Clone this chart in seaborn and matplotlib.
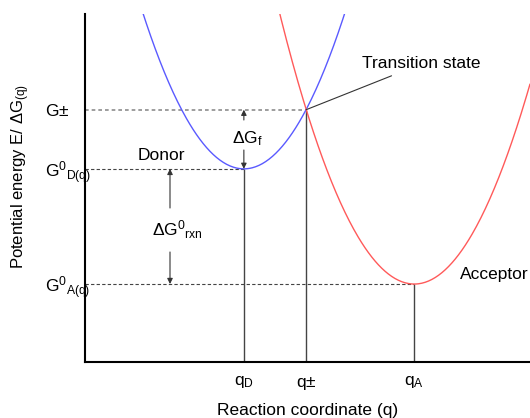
import numpy as np
import pandas as pd
import matplotlib
matplotlib.use("Agg")
import matplotlib.pyplot as plt
import seaborn as sns

# ---- data (axis units 0..10 on both axes) ----
states = ["Donor", "Acceptor"]
min_q = [3.57, 7.40]          # q_D, q_A
min_G = [5.55, 2.24]          # G0_D(q), G0_A(q)
curvature = [0.87, 0.85]
ts_q = 4.97                   # q±
ts_G = 7.25                   # G±
curve_colors = ["#5a5aff", "#ff5a5a"]

x_tick_pos = [min_q[0], ts_q, min_q[1]]
x_tick_labels = [r"q$_{\mathrm{D}}$", r"q$\pm$", r"q$_{\mathrm{A}}$"]
y_tick_pos = [ts_G, min_G[0], min_G[1]]
y_tick_labels = [r"G$\pm$", r"G$^{0}{}_{\mathrm{D(q)}}$", r"G$^{0}{}_{\mathrm{A(q)}}$"]

# ---- build parabola table ----
q = np.linspace(0, 10, 400)
frames = []
for s, q0, g0, k in zip(states, min_q, min_G, curvature):
    frames.append(pd.DataFrame({"q": q, "G": k * (q - q0) ** 2 + g0, "state": s}))
df = pd.concat(frames, ignore_index=True)

sns.set_style("white")
plt.rcParams["font.family"] = ["Liberation Sans", "DejaVu Sans"]
plt.rcParams["mathtext.fontset"] = "custom"
plt.rcParams["mathtext.rm"] = "Liberation Sans"
plt.rcParams["mathtext.it"] = "Liberation Sans"
plt.rcParams["mathtext.bf"] = "Liberation Sans:bold"
for key in ["text.color", "axes.labelcolor", "xtick.color", "ytick.color"]:
    plt.rcParams[key] = "black"

FS = 12.5
fig = plt.figure(figsize=(5.3, 4.18), dpi=100)
ax = fig.add_axes([85 / 530, 56 / 418, 445 / 530, 348 / 418])

sns.lineplot(data=df, x="q", y="G", hue="state", palette=dict(zip(states, curve_colors)),
             estimator=None, legend=False, lw=1.0, ax=ax, zorder=3)

ax.set_xlim(0, 10)
ax.set_ylim(0, 10)

# spines
for sp in ["top", "right"]:
    ax.spines[sp].set_visible(False)
for sp in ["left", "bottom"]:
    ax.spines[sp].set_color("black")
    ax.spines[sp].set_linewidth(1.5)

# guide lines
ax.hlines(ts_G, 0, ts_q, colors="#8c8c8c", lw=1.2, linestyles=(0, (2.2, 1.8)), zorder=2)
ax.hlines(min_G[0], 0, min_q[0], colors="#444444", lw=0.8, linestyles=(0, (3, 2)), zorder=2)
ax.hlines(min_G[1], 0, min_q[1], colors="#444444", lw=0.8, linestyles=(0, (3, 2)), zorder=2)
ax.vlines([min_q[0], ts_q, min_q[1]], 0, [min_G[0], ts_G, min_G[1]],
          colors="#444444", lw=1.0, zorder=2)

# ticks
ax.set_xticks(x_tick_pos, x_tick_labels)
ax.set_yticks(y_tick_pos, y_tick_labels)
ax.tick_params(axis="x", length=0, pad=9, labelsize=FS)
ax.tick_params(axis="y", length=0, pad=29, labelsize=FS)
for lbl in ax.get_yticklabels():
    lbl.set_horizontalalignment("left")

ax.set_xlabel("Reaction coordinate (q)", fontsize=FS, labelpad=8)
ax.set_ylabel(r"Potential energy E/ $\Delta$G$_{\mathrm{(q)}}$", fontsize=12)
ax.yaxis.set_label_coords((21 - 85) / 445, (362 - 177) / 348)
ax.yaxis.label.set_verticalalignment("center")

# arrows
ap = dict(arrowstyle="-|>", color="#333333", lw=0.8, mutation_scale=8, shrinkA=0, shrinkB=0)
def px2y(py):
    return (362 - py) / 34.8
def px2x(px):
    return (px - 85) / 44.5

# ΔG_f arrows
ax.annotate("", xy=(min_q[0], ts_G), xytext=(min_q[0], px2y(120)), arrowprops=ap)
ax.annotate("", xy=(min_q[0], min_G[0]), xytext=(min_q[0], px2y(150)), arrowprops=ap)
ax.text(px2x(247), px2y(139), r"$\Delta$G$_{\mathrm{f}}$", fontsize=FS, ha="center", va="center")

# ΔG0_rxn arrows
ax.annotate("", xy=(px2x(170), min_G[0]), xytext=(px2x(170), px2y(208)), arrowprops=ap)
ax.annotate("", xy=(px2x(170), min_G[1]), xytext=(px2x(170), px2y(252)), arrowprops=ap)
ax.text(px2x(177), px2y(230), r"$\Delta$G$^{0}{}_{\mathrm{rxn}}$", fontsize=FS, ha="center", va="center")

# labels
ax.text(px2x(161), px2y(156), "Donor", fontsize=FS, ha="center", va="center")
ax.text(px2x(460), px2y(275), "Acceptor", fontsize=FS, ha="left", va="center", clip_on=False)
ax.annotate("Transition state", xy=(ts_q, ts_G), xytext=(px2x(362), px2y(64)),
            fontsize=FS, ha="left", va="center",
            arrowprops=dict(arrowstyle="-", color="#333333", lw=0.8, shrinkA=2, shrinkB=0))

fig.savefig("out.png", dpi=100)
